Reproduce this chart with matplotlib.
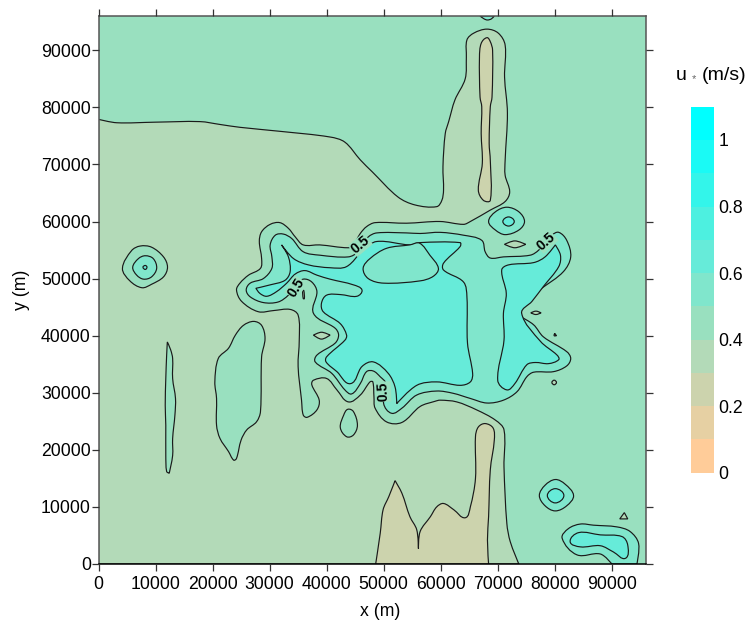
import numpy as np
import matplotlib
matplotlib.use('Agg')
import matplotlib.pyplot as plt
from matplotlib.path import Path
from matplotlib.patches import PathPatch

plt.rcParams['font.family'] = ['Liberation Sans', 'DejaVu Sans']

# colour bands of u*, 0 to 1.1 in steps of 0.1
levels = [0.0, 0.1, 0.2, 0.3, 0.4, 0.5, 0.6, 0.7, 0.8, 0.9, 1.0, 1.1]
band_colors = ['#FFCC99', '#E6D0A3', '#CCD3AD', '#B3DAB8', '#99E0BF', '#80E6CC',
               '#66EBD9', '#4DF0E0', '#33F5EA', '#1AFAF5', '#00FFFF']
bar_ticks = [0, 0.2, 0.4, 0.6, 0.8, 1]
xy_ticks = [0, 10000, 20000, 30000, 40000, 50000, 60000, 70000, 80000, 90000]

# contour outlines, (x, y) in km
low_region = [(0,0),(0,77.9),(3.2,77.3),(9.9,77.4),(17.8,77.5),(21.3,77),(24.8,76.5),(31.8,75.8),(40.6,74.8),
    (43.2,73.9),(45.9,70.8),(48,68.7),(52.5,64.3),(55.5,62.9),(59.3,62.6),(60.2,63.7),(60.5,65.5),(60.4,69.6),
    (60.8,75.4),(61.4,77.5),(62.5,81.3),(64.3,85),(64.5,88.8),(64.6,91.8),(65.8,93),(68.1,93.7),(70.1,93),
    (71.3,90.9),(71.2,85.3),(71.7,79),(71.3,70.7),(71.3,68.1),(72.1,65.2),(71.3,63.5),(68.7,62),(65.2,60),
    (64,59.5),(59.9,60),(54,59.7),(48.5,59.8),(47,59.1),(45.9,57.9),(44.7,55.9),(43.8,55.4),(38.8,55.9),
    (35.9,55.9),(34.5,57.3),(33.3,58.8),(31.8,59.8),(30.1,59.5),(28.6,58.2),(28.2,56.5),(28.6,53.5),(28.4,51.8),
    (26.3,50.6),(24.8,49.2),(24.2,48),(25.1,46),(28,44.2),(30.7,44.4),(33.6,44.6),(35,43.6),(35.2,39.2),(35,34.6),
    (35.6,28.7),(35.9,26.1),(36.6,25.7),(38.3,27),(38.7,28.7),(37.4,31.4),(37.7,32.2),(40,32.5),(41.8,30.5),
    (43.8,28.4),(45.9,29.6),(47.6,31.9),(48.1,31.9),(48.3,29.3),(48.5,27.3),(50.5,24.9),(53.2,24.8),(56.4,27.6),
    (59,28.5),(59.9,28.7),(62.8,28.4),(66.3,27),(69.6,25.2),(71.1,23.5),(71.1,17),(71.6,7.1),(72.2,3.9),(73.7,0)]
ridge_top = [(68.1,92.2),(67.1,91.2),(66.8,88.8),(66.9,81.8),(67.2,80.1),(67.1,75.4),(67.3,70.2),(66.6,65.5),(67.5,63.7),
    (68.7,63.7),(68.7,70.7),(68.5,73.7),(68.7,80.1),(69,81.8),(69.1,90),(68.7,91.5)]
ridge_bottom = [(48.6,0),(49.4,5.4),(49.9,9.5),(50.9,11.8),(52,14.6),(53.2,12.4),(54.6,8.3),(55.8,6),(56.1,2.7),(56.4,5.7),
    (58.2,8.3),(59.3,10),(60.5,10.6),(62.3,9.5),(64.3,8.1),(65.2,10),(66.1,15),(66.1,22.3),(66.6,24),(67.8,24.6),
    (69.2,23.8),(69.4,21.7),(68.7,16.5),(68.4,8.3),(68.2,4.2),(68.4,0)]
left_circle_04 = [(4.2,51.8),(5.8,54.9),(7.3,55.7),(9.3,55.5),(11.4,53.8),(12.1,52),(11.4,50.3),(9.3,49),(7.6,48.4),(5.5,49.6)]
left_circle_05 = [(6,52),(7,53.5),(8.2,54),(9.6,53.5),(10.2,51.8),(9.3,50.3),(7.9,49.9),(6.7,50.6)]
left_circle_06 = [(7.8,52),(8.2,52.3),(8.5,52),(8.2,51.6)]
sliver_12km = [(12.07,38.9),(12.66,37.5),(13,36),(13,32.5),(13.5,29),(13.4,26.1),(13,22),(13,19),(12.4,15.9),(11.95,16.2),
    (11.8,19),(11.8,24.3),(11.7,27.8),(11.8,32.5),(11.95,36.6)]
blob_24km = [(27.2,42.5),(28.6,41.8),(29.2,39.5),(28.6,36.3),(28.4,26.7),(27.7,24.9),(26,23.5),(25,21.7),(24.2,18.5),(23.7,18.2),
    (22.8,19.7),(21.3,22),(20.7,24.3),(20.7,29),(20.4,31.9),(21,36),(22.8,37.8),(24,40.1),(25.4,41.8)]
blob_44km = [(43.7,27.1),(44.7,26.7),(45.4,24.3),(44.7,22.6),(43.5,22.3),(42.4,23.9),(43,26.1)]
lens_a = [(37.7,40.1),(39.1,40.6),(40.6,40.1),(39.1,39.4)]
lens_b = [(71.2,56),(73,56.6),(74.9,56),(73,55.4)]
lens_c = [(75.8,44),(76.7,44.3),(77.6,44),(76.7,43.7)]
dot_d = [(80,40.4),(80.3,40),(79.9,40)]
dot_e = [(79.5,31.8),(79.9,32.2),(80.3,31.8),(79.9,31.4)]
tri_f = [(91.4,7.9),(92.2,9),(92.8,7.9)]
sliver_g = [(35.8,47.9),(36,47.9),(36.1,46.5),(35.9,46.5)]
top_blob = [(66.9,96),(67.6,95.5),(68.2,95.3),(68.9,95.5),(69.4,96)]
central_05 = [(48.8,58),(47.3,57.3),(46.4,55.9),(45.6,54.7),(43.8,53.8),(38.8,54.1),(35.9,54.7),(33.9,57),(32.4,57.8),(31,57.6),
    (30.1,55.9),(30.4,53.8),(30.4,51.8),(28.9,50),(26.6,49.2),(25.9,48),(26.6,46.8),(28.9,45.8),(31.5,45.9),(33.3,47.1),
    (34.7,48.9),(35.9,49.9),(37.4,49.4),(38.3,47.7),(37.7,43.9),(41.5,41.3),(42.1,40.1),(41.5,38.7),(38.3,36.6),(38,35.4),
    (40.9,33.4),(43.2,30.5),(44.4,29.8),(45.9,31.6),(47,33.7),(48.2,33.8),(49.4,32.8),(50.4,31.6),(50,28.1),(51.4,26.4),
    (53.2,27.3),(55.8,29.6),(59.3,30.3),(62.2,29.9),(65.2,29),(68.1,28.2),(71,28.7),(73.4,30.2),(75.1,32.8),(76.3,33.6),
    (79.8,33.7),(82.1,34.7),(82.8,36),(82.1,37.2),(78,39.8),(76.3,41.9),(73.7,43.6),(72.9,44.5),(73.9,45.6),(77.7,48.3),
    (81.5,51.2),(82.8,53.8),(82.1,56.7),(80.7,58.1),(79.5,57.6),(77.2,55),(75.7,54.1),(71,53.8),(68.7,53.6),(67.8,54.7),
    (67.2,56.7),(64,57.6),(59.9,58.1),(56.4,57.9),(54,58)]
central_06 = [(48.8,56.5),(54.6,55.9),(56.3,56.3),(63.4,56.3),(63.4,55.6),(60.5,52.7),(60.5,51.5),(64,49.4),(64.6,46.8),(64.7,38.7),
    (65.6,33.4),(65.2,31.9),(63.4,31.3),(59.3,31.9),(55.8,31.3),(52.3,28.1),(52,31),(50.8,33.4),(48.2,35.4),(46.2,34.6),
    (44.2,31.6),(41.8,33.7),(39.9,35.4),(40,36.3),(43.2,39.2),(43.5,40.1),(42.4,42.1),(39.4,44.2),(39.1,45.7),(40,47.1),
    (42.4,47.2),(45.3,46.9),(46.2,48),(44.7,48.9),(40.6,49.9),(38.3,50.6),(36.2,51.4),(34.5,50.8),(33,49.2),(31.2,47.7),
    (29.5,46.9),(28.3,47.4),(27.6,48.3),(30.1,48.9),(32.7,49.7),(33.6,51.2),(33.3,53.8),(32.1,55.9),(34.2,53.5),(36.8,52.4),
    (40.6,51.9),(43.5,52.1),(46.4,55)]
lake_05 = [(54.6,55.9),(50.5,55.3),(47.6,53.5),(46.4,51.8),(47.3,50),(50,49.2),(56.4,49.6),(58.7,50.4),(59.6,51.8),(58.1,54.1),(56.3,56.2)]
right_06 = [(70.7,51.5),(71.5,47.4),(71,43.9),(71.1,39.2),(70,32.2),(71.6,30.5),(73,31.6),(75.1,34.9),(76.6,35.3),(78.9,35.1),
    (80.7,35.8),(80.4,36.6),(77.5,39),(74.2,43.9),(76,46),(78,48.6),(80.7,52.1),(81,54.1),(80.1,55.9),(78.3,53.8),(76.3,52.8),(71.9,52.4)]
blob_72_05 = [(68.4,60),(69.6,61.7),(71.6,62.5),(73.7,61.7),(74.7,60),(73.7,58.5),(71.3,57.7),(69.6,58.5)]
blob_72_06 = [(70.9,60),(71.9,60.8),(72.9,60),(71.9,59.2)]
blob_80_05 = [(77.3,12),(78.3,13.8),(80.1,14.8),(81.8,14),(83.3,12),(82.1,10.2),(80.1,9.3),(78.3,10.2)]
blob_80_06 = [(78.7,12),(80.1,13.2),(81.6,12),(80.1,10.7)]
blob_br_05 = [(81.3,4.5),(82.4,6.2),(84.5,7),(86.8,6.8),(90.9,6.5),(93.2,5.7),(94.7,3.6),(94.4,0),(90,0),(88,1.75),(83.9,1.6)]
blob_br_06 = [(82.7,3.9),(84.2,5.5),(88,5.1),(91.8,4.8),(92.8,3.3),(92.4,1),(90.3,2.1),(88,3.2),(84.5,3)]

# painted in this order, later ones on top: (outline, index of colour band)
layers = [(low_region,3),(ridge_top,2),(ridge_bottom,2),(left_circle_04,4),(left_circle_05,5),(left_circle_06,6),
          (sliver_12km,4),(blob_24km,4),(blob_44km,4),(central_05,5),(central_06,6),(lake_05,5),(right_06,6),
          (blob_72_05,5),(blob_72_06,6),(blob_80_05,5),(blob_80_06,6),(blob_br_05,5),(blob_br_06,6),
          (top_blob,5),(lens_a,3),(lens_b,3),(lens_c,3),(dot_d,3),(dot_e,3),(tri_f,3),(sliver_g,3)]

# contour labels: x km, y km, rotation
label_x = [45.9, 34.6, 50.0, 78.5]
label_y = [55.9, 48.4, 30.2, 56.5]
label_rot = [40, 58, 92, 42]

def smooth_outline(outline):
    # closed bezier through the read points, sharp tips and points on the frame stay corners
    p = np.array(outline, dtype=float)
    n = len(p)
    tang = np.zeros((n, 2))
    for i in range(n):
        a = p[i]-p[i-1]
        b = p[(i+1) % n]-p[i]
        cos_turn = a @ b / (np.linalg.norm(a)*np.linalg.norm(b))
        on_frame = p[i,0] <= 0 or p[i,1] <= 0 or p[i,1] >= 96
        if cos_turn > -0.35 and not on_frame:
            d = p[(i+1) % n]-p[i-1]
            tang[i] = d/np.linalg.norm(d)
    verts = [p[0]]
    codes = [Path.MOVETO]
    for i in range(n):
        j = (i+1) % n
        h = np.linalg.norm(p[j]-p[i])/3
        verts += [p[i]+tang[i]*h, p[j]-tang[j]*h, p[j]]
        codes += [Path.CURVE4]*3
    verts.append(p[0])
    codes.append(Path.CLOSEPOLY)
    return Path(np.array(verts)*1000, codes)

fig = plt.figure(figsize=(7.49, 6.26), dpi=100)
ax = fig.add_axes([98.5/749, 1-564/626, 547.5/749, 548/626])
ax.set_facecolor(band_colors[4])
for outline, band in layers:
    ax.add_patch(PathPatch(smooth_outline(outline), facecolor=band_colors[band], edgecolor='#1a1a1a',
                           linewidth=0.85, zorder=2))
for lx, ly, r in zip(label_x, label_y, label_rot):
    ax.text(lx*1000, ly*1000, '0.5', rotation=r, ha='center', va='center', fontsize=10, fontweight='bold',
            color='black', zorder=4, bbox=dict(facecolor=band_colors[4], edgecolor='none', pad=0.3))

ax.set_xlim(0, 96000)
ax.set_ylim(0, 96000)
ax.set_xticks(xy_ticks)
ax.set_yticks(xy_ticks)
ax.tick_params(direction='out', length=5, width=0.9, color='#333333', labelsize=12.7, top=True, right=True, pad=3.5)
ax.tick_params(axis='y', pad=0.5)
for s in ['top', 'right', 'left']:
    ax.spines[s].set_color('#555555')
    ax.spines[s].set_linewidth(1.1)
ax.spines['bottom'].set_linewidth(1.1)
ax.spines['bottom'].set_color('black')
ax.set_axisbelow(False)
fig.text(380/749, 1-612/626, 'x (m)', ha='center', va='center', fontsize=12.7)
fig.text(22/749, 1-290/626, 'y (m)', ha='center', va='center', rotation=90, fontsize=12.7)

# colour bar
cax = fig.add_axes([691/749, 1-472.7/626, 22.7/749, 366/626])
cax.bar(np.full(len(band_colors), 0.5), np.diff(levels), width=1, bottom=levels[:-1], color=band_colors)
cax.set_xlim(0, 1)
cax.set_ylim(0, 1.1)
cax.set_xticks([])
cax.yaxis.tick_right()
cax.set_yticks(bar_ticks)
cax.set_yticklabels(['0', '0.2', '0.4', '0.6', '0.8', '1'], fontsize=12.7)
cax.tick_params(axis='y', length=0, pad=3.5)
for s in cax.spines.values():
    s.set_visible(False)

fig.text(676/749, 1-76/626, 'u', ha='left', va='center', fontsize=14)
fig.text(692/749, 1-79/626, '*', ha='left', va='center', fontsize=8, color='#666666')
fig.text(702/749, 1-76/626, '(m/s)', ha='left', va='center', fontsize=14)

fig.savefig('out.png', dpi=100)
